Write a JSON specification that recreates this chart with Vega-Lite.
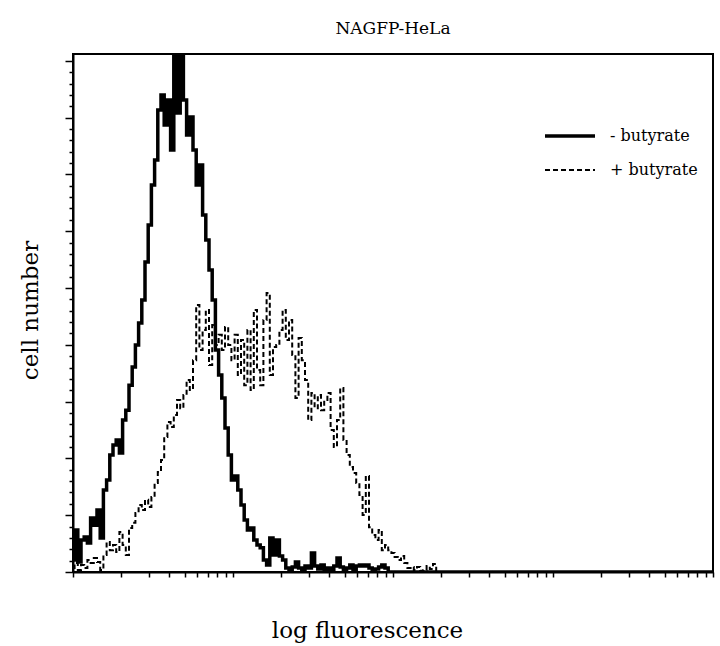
{
  "$schema": "https://vega.github.io/schema/vega-lite/v6.json",
  "width": 640,
  "height": 518,
  "autosize": "none",
  "padding": {"left": 73, "top": 54, "right": 7, "bottom": 74},
  "background": "white",
  "config": {
    "view": {"stroke": "black", "strokeWidth": 2},
    "font": "DejaVu Serif",
    "legend": {
      "orient": "none",
      "legendX": 470,
      "legendY": 55,
      "symbolType": "stroke",
      "symbolSize": 2500,
      "symbolStrokeColor": "black",
      "labelFont": "DejaVu Serif",
      "labelFontSize": 16,
      "labelColor": "black",
      "labelOffset": 13,
      "rowPadding": -8
    }
  },
  "title": {
    "text": "NAGFP-HeLa",
    "frame": "group",
    "anchor": "middle",
    "font": "DejaVu Serif",
    "fontSize": 17,
    "fontWeight": "normal",
    "color": "black",
    "offset": 16
  },
  "data": {
    "values": [
      {"series": "- butyrate", "logF": 0, "count": 4.2},
      {"series": "- butyrate", "logF": 0.02, "count": 14.8},
      {"series": "- butyrate", "logF": 0.04, "count": 3.5},
      {"series": "- butyrate", "logF": 0.06, "count": 11.3},
      {"series": "- butyrate", "logF": 0.08, "count": 12.3},
      {"series": "- butyrate", "logF": 0.1, "count": 10.2},
      {"series": "- butyrate", "logF": 0.12, "count": 19},
      {"series": "- butyrate", "logF": 0.14, "count": 16.5},
      {"series": "- butyrate", "logF": 0.16, "count": 21.8},
      {"series": "- butyrate", "logF": 0.18, "count": 12},
      {"series": "- butyrate", "logF": 0.2, "count": 28.9},
      {"series": "- butyrate", "logF": 0.22, "count": 32.4},
      {"series": "- butyrate", "logF": 0.24, "count": 41.2},
      {"series": "- butyrate", "logF": 0.26, "count": 44.7},
      {"series": "- butyrate", "logF": 0.28, "count": 46.5},
      {"series": "- butyrate", "logF": 0.3, "count": 41.9},
      {"series": "- butyrate", "logF": 0.32, "count": 53.5},
      {"series": "- butyrate", "logF": 0.34, "count": 57},
      {"series": "- butyrate", "logF": 0.36, "count": 65.8},
      {"series": "- butyrate", "logF": 0.38, "count": 72.2},
      {"series": "- butyrate", "logF": 0.4, "count": 79.9},
      {"series": "- butyrate", "logF": 0.42, "count": 87.7},
      {"series": "- butyrate", "logF": 0.44, "count": 95.8},
      {"series": "- butyrate", "logF": 0.46, "count": 109.2},
      {"series": "- butyrate", "logF": 0.48, "count": 122.2},
      {"series": "- butyrate", "logF": 0.5, "count": 136.3},
      {"series": "- butyrate", "logF": 0.52, "count": 145.1},
      {"series": "- butyrate", "logF": 0.54, "count": 162.7},
      {"series": "- butyrate", "logF": 0.56, "count": 168},
      {"series": "- butyrate", "logF": 0.58, "count": 157.4},
      {"series": "- butyrate", "logF": 0.6, "count": 166.2},
      {"series": "- butyrate", "logF": 0.62, "count": 148.6},
      {"series": "- butyrate", "logF": 0.64, "count": 183},
      {"series": "- butyrate", "logF": 0.66, "count": 161.6},
      {"series": "- butyrate", "logF": 0.68, "count": 183},
      {"series": "- butyrate", "logF": 0.7, "count": 166.2},
      {"series": "- butyrate", "logF": 0.72, "count": 153.9},
      {"series": "- butyrate", "logF": 0.74, "count": 160.2},
      {"series": "- butyrate", "logF": 0.76, "count": 148.6},
      {"series": "- butyrate", "logF": 0.78, "count": 136.3},
      {"series": "- butyrate", "logF": 0.8, "count": 143.3},
      {"series": "- butyrate", "logF": 0.82, "count": 125.7},
      {"series": "- butyrate", "logF": 0.84, "count": 116.9},
      {"series": "- butyrate", "logF": 0.86, "count": 106.3},
      {"series": "- butyrate", "logF": 0.88, "count": 95.8},
      {"series": "- butyrate", "logF": 0.9, "count": 78.2},
      {"series": "- butyrate", "logF": 0.92, "count": 69.4},
      {"series": "- butyrate", "logF": 0.94, "count": 61.3},
      {"series": "- butyrate", "logF": 0.96, "count": 50.7},
      {"series": "- butyrate", "logF": 0.98, "count": 41.2},
      {"series": "- butyrate", "logF": 1.0, "count": 32.4},
      {"series": "- butyrate", "logF": 1.02, "count": 33.8},
      {"series": "- butyrate", "logF": 1.04, "count": 28.9},
      {"series": "- butyrate", "logF": 1.06, "count": 23.6},
      {"series": "- butyrate", "logF": 1.08, "count": 18.3},
      {"series": "- butyrate", "logF": 1.1, "count": 14.8},
      {"series": "- butyrate", "logF": 1.12, "count": 15.5},
      {"series": "- butyrate", "logF": 1.14, "count": 11.3},
      {"series": "- butyrate", "logF": 1.16, "count": 9.5},
      {"series": "- butyrate", "logF": 1.18, "count": 8.5},
      {"series": "- butyrate", "logF": 1.2, "count": 4.2},
      {"series": "- butyrate", "logF": 1.22, "count": 2.5},
      {"series": "- butyrate", "logF": 1.24, "count": 12},
      {"series": "- butyrate", "logF": 1.26, "count": 6},
      {"series": "- butyrate", "logF": 1.28, "count": 11.3},
      {"series": "- butyrate", "logF": 1.3, "count": 5.6},
      {"series": "- butyrate", "logF": 1.32, "count": 4.2},
      {"series": "- butyrate", "logF": 1.34, "count": 1.4},
      {"series": "- butyrate", "logF": 1.36, "count": 0},
      {"series": "- butyrate", "logF": 1.38, "count": 1.8},
      {"series": "- butyrate", "logF": 1.4, "count": 3.5},
      {"series": "- butyrate", "logF": 1.42, "count": 1.4},
      {"series": "- butyrate", "logF": 1.44, "count": 0.7},
      {"series": "- butyrate", "logF": 1.46, "count": 2.1},
      {"series": "- butyrate", "logF": 1.48, "count": 1.4},
      {"series": "- butyrate", "logF": 1.5, "count": 6.7},
      {"series": "- butyrate", "logF": 1.52, "count": 2.1},
      {"series": "- butyrate", "logF": 1.54, "count": 1.1},
      {"series": "- butyrate", "logF": 1.56, "count": 2.5},
      {"series": "- butyrate", "logF": 1.58, "count": 0.7},
      {"series": "- butyrate", "logF": 1.6, "count": 1.4},
      {"series": "- butyrate", "logF": 1.62, "count": 0.4},
      {"series": "- butyrate", "logF": 1.64, "count": 2.1},
      {"series": "- butyrate", "logF": 1.66, "count": 4.9},
      {"series": "- butyrate", "logF": 1.68, "count": 1.8},
      {"series": "- butyrate", "logF": 1.7, "count": 0.4},
      {"series": "- butyrate", "logF": 1.72, "count": 1.4},
      {"series": "- butyrate", "logF": 1.74, "count": 2.5},
      {"series": "- butyrate", "logF": 1.76, "count": 0.7},
      {"series": "- butyrate", "logF": 1.78, "count": 2.1},
      {"series": "- butyrate", "logF": 1.8, "count": 2.5},
      {"series": "- butyrate", "logF": 1.82, "count": 2.1},
      {"series": "- butyrate", "logF": 1.84, "count": 2.5},
      {"series": "- butyrate", "logF": 1.86, "count": 1.4},
      {"series": "- butyrate", "logF": 1.88, "count": 0.4},
      {"series": "- butyrate", "logF": 1.9, "count": 1.1},
      {"series": "- butyrate", "logF": 1.92, "count": 1.8},
      {"series": "- butyrate", "logF": 1.94, "count": 2.5},
      {"series": "- butyrate", "logF": 1.96, "count": 1.4},
      {"series": "- butyrate", "logF": 1.98, "count": 0},
      {"series": "- butyrate", "logF": 2.0, "count": 0},
      {"series": "- butyrate", "logF": 4.0, "count": 0},
      {"series": "+ butyrate", "logF": 0, "count": 1.4},
      {"series": "+ butyrate", "logF": 0.02, "count": 3.2},
      {"series": "+ butyrate", "logF": 0.04, "count": 0.7},
      {"series": "+ butyrate", "logF": 0.06, "count": 2.5},
      {"series": "+ butyrate", "logF": 0.08, "count": 1.4},
      {"series": "+ butyrate", "logF": 0.1, "count": 4.2},
      {"series": "+ butyrate", "logF": 0.12, "count": 3.2},
      {"series": "+ butyrate", "logF": 0.14, "count": 4.9},
      {"series": "+ butyrate", "logF": 0.16, "count": 3.5},
      {"series": "+ butyrate", "logF": 0.18, "count": 0.7},
      {"series": "+ butyrate", "logF": 0.2, "count": 6},
      {"series": "+ butyrate", "logF": 0.22, "count": 10.6},
      {"series": "+ butyrate", "logF": 0.24, "count": 7.7},
      {"series": "+ butyrate", "logF": 0.26, "count": 9.5},
      {"series": "+ butyrate", "logF": 0.28, "count": 7},
      {"series": "+ butyrate", "logF": 0.3, "count": 14.1},
      {"series": "+ butyrate", "logF": 0.32, "count": 9.5},
      {"series": "+ butyrate", "logF": 0.34, "count": 6},
      {"series": "+ butyrate", "logF": 0.36, "count": 15.5},
      {"series": "+ butyrate", "logF": 0.38, "count": 17.3},
      {"series": "+ butyrate", "logF": 0.4, "count": 20.8},
      {"series": "+ butyrate", "logF": 0.42, "count": 23.6},
      {"series": "+ butyrate", "logF": 0.44, "count": 21.8},
      {"series": "+ butyrate", "logF": 0.46, "count": 25.4},
      {"series": "+ butyrate", "logF": 0.48, "count": 22.9},
      {"series": "+ butyrate", "logF": 0.5, "count": 26.4},
      {"series": "+ butyrate", "logF": 0.52, "count": 31.3},
      {"series": "+ butyrate", "logF": 0.54, "count": 35.2},
      {"series": "+ butyrate", "logF": 0.56, "count": 39.4},
      {"series": "+ butyrate", "logF": 0.58, "count": 47.5},
      {"series": "+ butyrate", "logF": 0.6, "count": 52.8},
      {"series": "+ butyrate", "logF": 0.62, "count": 51.1},
      {"series": "+ butyrate", "logF": 0.64, "count": 55.3},
      {"series": "+ butyrate", "logF": 0.66, "count": 60.6},
      {"series": "+ butyrate", "logF": 0.68, "count": 57.7},
      {"series": "+ butyrate", "logF": 0.7, "count": 62.3},
      {"series": "+ butyrate", "logF": 0.72, "count": 67.6},
      {"series": "+ butyrate", "logF": 0.74, "count": 64.1},
      {"series": "+ butyrate", "logF": 0.76, "count": 74.6},
      {"series": "+ butyrate", "logF": 0.78, "count": 94},
      {"series": "+ butyrate", "logF": 0.8, "count": 78.2},
      {"series": "+ butyrate", "logF": 0.82, "count": 85.2},
      {"series": "+ butyrate", "logF": 0.84, "count": 92.3},
      {"series": "+ butyrate", "logF": 0.86, "count": 72.9},
      {"series": "+ butyrate", "logF": 0.88, "count": 87},
      {"series": "+ butyrate", "logF": 0.9, "count": 79.9},
      {"series": "+ butyrate", "logF": 0.92, "count": 83.5},
      {"series": "+ butyrate", "logF": 0.94, "count": 78.2},
      {"series": "+ butyrate", "logF": 0.96, "count": 86.3},
      {"series": "+ butyrate", "logF": 0.98, "count": 79.9},
      {"series": "+ butyrate", "logF": 1.0, "count": 74.6},
      {"series": "+ butyrate", "logF": 1.02, "count": 83.5},
      {"series": "+ butyrate", "logF": 1.04, "count": 69.4},
      {"series": "+ butyrate", "logF": 1.06, "count": 81.7},
      {"series": "+ butyrate", "logF": 1.08, "count": 65.8},
      {"series": "+ butyrate", "logF": 1.1, "count": 85.2},
      {"series": "+ butyrate", "logF": 1.12, "count": 64.1},
      {"series": "+ butyrate", "logF": 1.14, "count": 92.3},
      {"series": "+ butyrate", "logF": 1.16, "count": 71.1},
      {"series": "+ butyrate", "logF": 1.18, "count": 65.8},
      {"series": "+ butyrate", "logF": 1.2, "count": 88.7},
      {"series": "+ butyrate", "logF": 1.22, "count": 98.2},
      {"series": "+ butyrate", "logF": 1.24, "count": 69.4},
      {"series": "+ butyrate", "logF": 1.26, "count": 79.2},
      {"series": "+ butyrate", "logF": 1.28, "count": 79.9},
      {"series": "+ butyrate", "logF": 1.3, "count": 85.2},
      {"series": "+ butyrate", "logF": 1.32, "count": 92.3},
      {"series": "+ butyrate", "logF": 1.34, "count": 81.7},
      {"series": "+ butyrate", "logF": 1.36, "count": 88.7},
      {"series": "+ butyrate", "logF": 1.38, "count": 76.4},
      {"series": "+ butyrate", "logF": 1.4, "count": 61.3},
      {"series": "+ butyrate", "logF": 1.42, "count": 82.4},
      {"series": "+ butyrate", "logF": 1.44, "count": 74.6},
      {"series": "+ butyrate", "logF": 1.46, "count": 67.6},
      {"series": "+ butyrate", "logF": 1.48, "count": 53.5},
      {"series": "+ butyrate", "logF": 1.5, "count": 63},
      {"series": "+ butyrate", "logF": 1.52, "count": 57.7},
      {"series": "+ butyrate", "logF": 1.54, "count": 62.3},
      {"series": "+ butyrate", "logF": 1.56, "count": 57},
      {"series": "+ butyrate", "logF": 1.58, "count": 60.6},
      {"series": "+ butyrate", "logF": 1.6, "count": 63},
      {"series": "+ butyrate", "logF": 1.62, "count": 50},
      {"series": "+ butyrate", "logF": 1.64, "count": 44},
      {"series": "+ butyrate", "logF": 1.66, "count": 53.5},
      {"series": "+ butyrate", "logF": 1.68, "count": 64.8},
      {"series": "+ butyrate", "logF": 1.7, "count": 46.5},
      {"series": "+ butyrate", "logF": 1.72, "count": 41.2},
      {"series": "+ butyrate", "logF": 1.74, "count": 37},
      {"series": "+ butyrate", "logF": 1.76, "count": 34.9},
      {"series": "+ butyrate", "logF": 1.78, "count": 31.3},
      {"series": "+ butyrate", "logF": 1.8, "count": 27.1},
      {"series": "+ butyrate", "logF": 1.82, "count": 20.1},
      {"series": "+ butyrate", "logF": 1.84, "count": 33.8},
      {"series": "+ butyrate", "logF": 1.86, "count": 15.8},
      {"series": "+ butyrate", "logF": 1.88, "count": 13},
      {"series": "+ butyrate", "logF": 1.9, "count": 11.3},
      {"series": "+ butyrate", "logF": 1.92, "count": 14.8},
      {"series": "+ butyrate", "logF": 1.94, "count": 7.7},
      {"series": "+ butyrate", "logF": 1.96, "count": 9.5},
      {"series": "+ butyrate", "logF": 1.98, "count": 7.7},
      {"series": "+ butyrate", "logF": 2.0, "count": 6.7},
      {"series": "+ butyrate", "logF": 2.02, "count": 5.3},
      {"series": "+ butyrate", "logF": 2.04, "count": 4.2},
      {"series": "+ butyrate", "logF": 2.06, "count": 5.6},
      {"series": "+ butyrate", "logF": 2.08, "count": 3.2},
      {"series": "+ butyrate", "logF": 2.1, "count": 1.4},
      {"series": "+ butyrate", "logF": 2.12, "count": 1.8},
      {"series": "+ butyrate", "logF": 2.14, "count": 0.7},
      {"series": "+ butyrate", "logF": 2.16, "count": 1.8},
      {"series": "+ butyrate", "logF": 2.18, "count": 0.4},
      {"series": "+ butyrate", "logF": 2.2, "count": 0.7},
      {"series": "+ butyrate", "logF": 2.22, "count": 2.1},
      {"series": "+ butyrate", "logF": 2.24, "count": 1.1},
      {"series": "+ butyrate", "logF": 2.26, "count": 2.8},
      {"series": "+ butyrate", "logF": 2.28, "count": 0}
    ]
  },
  "mark": {"type": "line", "interpolate": "step", "color": "black", "clip": true},
  "encoding": {
    "x": {
      "field": "logF",
      "type": "quantitative",
      "scale": {"domain": [0, 4], "nice": false, "zero": false},
      "axis": {
        "title": "log fluorescence",
        "labels": false,
        "grid": false,
        "values": [0, 0.301, 0.477, 0.602, 0.699, 0.778, 0.845, 0.903, 0.954, 1, 1.301, 1.477, 1.602, 1.699, 1.778, 1.845, 1.903, 1.954, 2, 2.301, 2.477, 2.602, 2.699, 2.778, 2.845, 2.903, 2.954, 3, 3.301, 3.477, 3.602, 3.699, 3.778, 3.845, 3.903, 3.954, 4],
        "tickSize": 5,
        "tickWidth": 1.5,
        "tickColor": "black",
        "domainColor": "black",
        "domainWidth": 2,
        "titleFont": "DejaVu Serif",
        "titleFontSize": 23,
        "titleFontWeight": "normal",
        "titleColor": "black",
        "titleX": 294,
        "titleY": 58,
        "titleBaseline": "middle"
      }
    },
    "y": {
      "field": "count",
      "type": "quantitative",
      "scale": {"domain": [0, 182.4], "nice": false, "zero": true},
      "axis": {
        "title": "cell number",
        "labels": false,
        "grid": false,
        "values": [0, 4, 8, 12, 16, 20, 24, 28, 32, 36, 40, 44, 48, 52, 56, 60, 64, 68, 72, 76, 80, 84, 88, 92, 96, 100, 104, 108, 112, 116, 120, 124, 128, 132, 136, 140, 144, 148, 152, 156, 160, 164, 168, 172, 176, 180],
        "tickSize": {"condition": {"test": "datum.value % 20 === 0", "value": 8}, "value": 4},
        "tickWidth": 1.5,
        "tickColor": "black",
        "domainColor": "black",
        "domainWidth": 2,
        "titleFont": "DejaVu Serif",
        "titleFontSize": 23,
        "titleFontWeight": "normal",
        "titleColor": "black",
        "titleX": -43,
        "titleY": 256,
        "titleBaseline": "middle"
      }
    },
    "strokeDash": {
      "field": "series",
      "type": "nominal",
      "scale": {"domain": ["- butyrate", "+ butyrate"], "range": [[1, 0], [5, 3]]},
      "legend": {"title": null}
    },
    "strokeWidth": {
      "field": "series",
      "type": "nominal",
      "scale": {"domain": ["- butyrate", "+ butyrate"], "range": [3.5, 2]},
      "legend": {"title": null}
    }
  }
}
